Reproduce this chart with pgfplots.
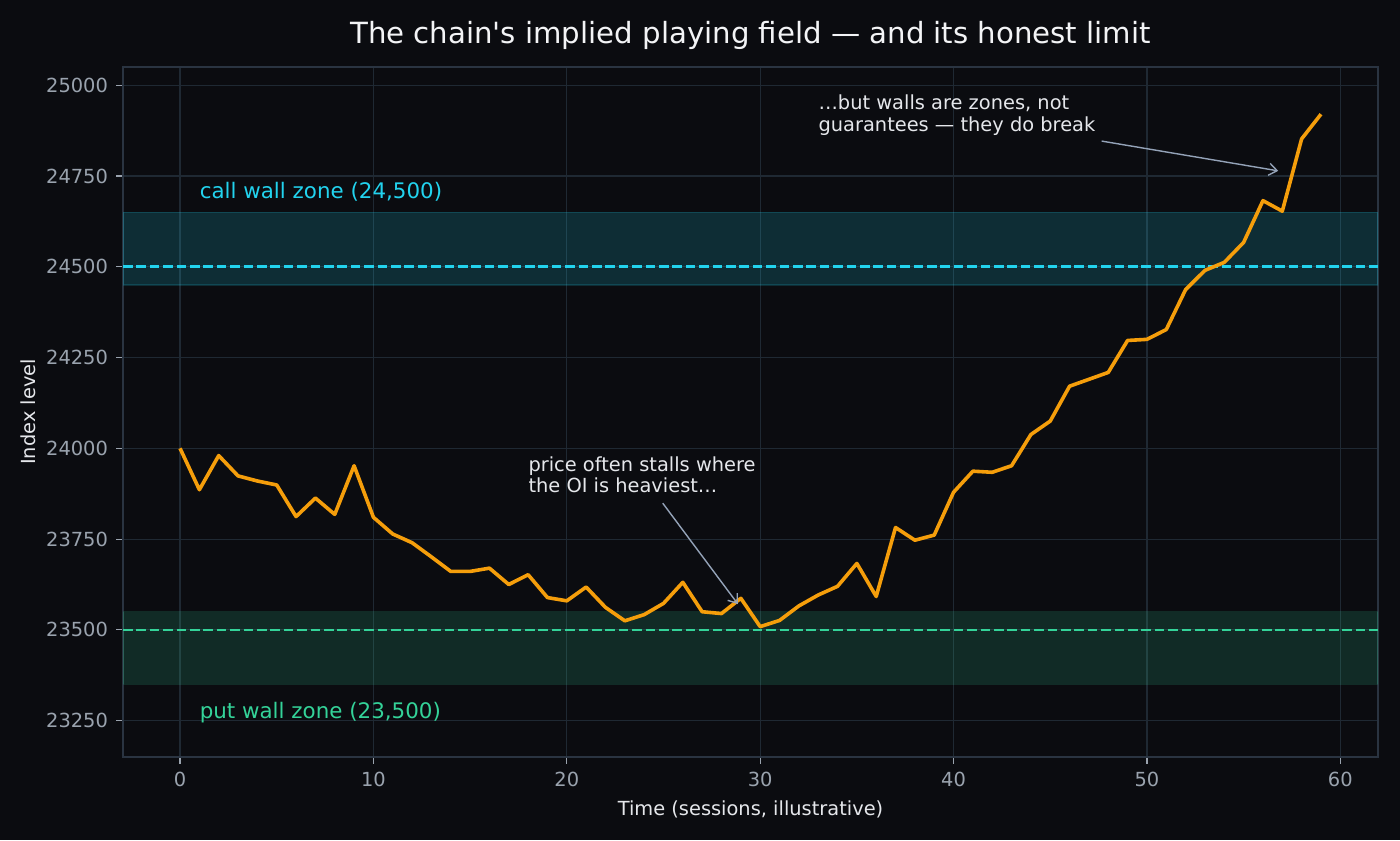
\documentclass[border=0pt]{standalone}
\usepackage{fontspec}
\setmainfont{DejaVu Sans}
\usepackage{pgfplots}
\pgfplotsset{compat=1.18}
\usetikzlibrary{arrows.meta}

\definecolor{bgc}{HTML}{0B0C10}
\definecolor{gridc}{HTML}{1F2933}
\definecolor{spinec}{HTML}{2A3441}
\definecolor{tickc}{HTML}{9AA3AE}
\definecolor{textc}{HTML}{E5E7EB}
\definecolor{titlec}{HTML}{F3F4F6}
\definecolor{callc}{HTML}{22D3EE}
\definecolor{putc}{HTML}{34D399}
\definecolor{pricec}{HTML}{F59E0B}
\definecolor{arrowc}{HTML}{94A3B8}

% simulated index path, one value per session
\pgfplotstableread{
t   level
0   24000
1   23886
2   23980
3   23924
4   23910
5   23899
6   23812
7   23863
8   23818
9   23952
10  23810
11  23764
12  23740
13  23701
14  23661
15  23661
16  23670
17  23625
18  23652
19  23589
20  23580
21  23618
22  23562
23  23525
24  23542
25  23573
26  23631
27  23550
28  23545
29  23587
30  23509
31  23526
32  23566
33  23596
34  23620
35  23683
36  23592
37  23782
38  23747
39  23761
40  23879
41  23937
42  23934
43  23952
44  24038
45  24075
46  24171
47  24190
48  24209
49  24297
50  24300
51  24327
52  24437
53  24490
54  24512
55  24567
56  24682
57  24653
58  24852
59  24920
}\pricepath

\begin{document}
\begin{tikzpicture}
\useasboundingbox (0,0) rectangle (700pt,420pt);
\fill[bgc] (0,0) rectangle (700pt,420pt);
\begin{axis}[
  at={(61.5pt,41.5pt)}, anchor=south west,
  scale only axis, width=627.5pt, height=345pt,
  xmin=-2.95, xmax=61.95, ymin=23150, ymax=25050,
  xtick={0,10,...,60},
  ytick={23250,23500,23750,24000,24250,24500,24750,25000},
  scaled y ticks=false,
  /pgf/number format/set thousands separator={},
  /pgf/number format/assume math mode=true,
  xtick pos=bottom, ytick pos=left,
  tick align=outside,
  major tick length=3.4pt,
  tick style={draw=tickc, line width=0.6pt},
  every tick label/.append style={font=\fontsize{9.7}{11}\selectfont, text=tickc},
  xticklabel style={yshift=-0.6pt},
  yticklabel style={xshift=-0.6pt},
  axis line style={draw=spinec, line width=0.7pt},
  grid=major,
  major grid style={draw=gridc, line width=0.6pt},
  every axis title shift=0pt,
  title={The chain\textquotesingle s implied playing field — and its honest limit},
  title style={at={(axis description cs:0.5,1.0343)}, anchor=base,
    font=\fontsize{14.6}{17}\selectfont, text=titlec},
  xlabel={Time (sessions, illustrative)},
  ylabel={Index level},
  xlabel style={at={(axis description cs:0.5,-0.0841)}, anchor=base,
    font=\fontsize{9.7}{11}\selectfont, text=textc},
  ylabel style={at={(axis description cs:-0.0695,0.5)}, anchor=base, rotate=0,
    font=\fontsize{9.7}{11}\selectfont, text=textc},
  clip=true,
]
% wall zones
\addplot[fill=callc, fill opacity=0.17, draw=callc, draw opacity=0.17, line width=0.7pt]
  coordinates {(-2.95,24450) (61.95,24450) (61.95,24650) (-2.95,24650)} --cycle;
\addplot[fill=putc, fill opacity=0.16, draw=putc, draw opacity=0.16, line width=0.7pt]
  coordinates {(-2.95,23350) (61.95,23350) (61.95,23550) (-2.95,23550)} --cycle;
% wall strikes
\addplot[callc, line width=1.3pt, dash pattern=on 4.8pt off 1.9pt]
  coordinates {(-2.95,24500) (61.95,24500)};
\addplot[putc, line width=1.3pt, dash pattern=on 4.8pt off 1.9pt]
  coordinates {(-2.95,23500) (61.95,23500)};
% price path
\addplot[pricec, line width=1.8pt, line join=round, mark=none] table[x=t, y=level] {\pricepath};

% zone labels
\node[anchor=base west, inner sep=0pt, text=callc, font=\fontsize{10.7}{12}\selectfont]
  at (axis cs:1,24687) {call wall zone (24,500)};
\node[anchor=base west, inner sep=0pt, text=putc, font=\fontsize{10.7}{12}\selectfont]
  at (axis cs:1,23257) {put wall zone (23,500)};

% annotations
\draw[arrowc, line width=0.7pt, -{Straight Barb[length=4pt, width=6pt]}]
  (axis cs:24.96,23849) -- (axis cs:28.85,23571);
\node[anchor=base west, inner sep=0pt, text=textc, font=\fontsize{9.7}{11}\selectfont]
  at (axis cs:18,23935.6) {price often stalls where};
\node[anchor=base west, inner sep=0pt, text=textc, font=\fontsize{9.7}{11}\selectfont]
  at (axis cs:18,23877.8) {the OI is heaviest…};
\draw[arrowc, line width=0.7pt, -{Straight Barb[length=4pt, width=6pt]}]
  (axis cs:47.66,24846) -- (axis cs:56.79,24764);
\node[anchor=base west, inner sep=0pt, text=textc, font=\fontsize{9.7}{11}\selectfont]
  at (axis cs:33,24931.6) {…but walls are zones, not};
\node[anchor=base west, inner sep=0pt, text=textc, font=\fontsize{9.7}{11}\selectfont]
  at (axis cs:33,24871.8) {guarantees — they do break};
\end{axis}
\end{tikzpicture}
\end{document}
